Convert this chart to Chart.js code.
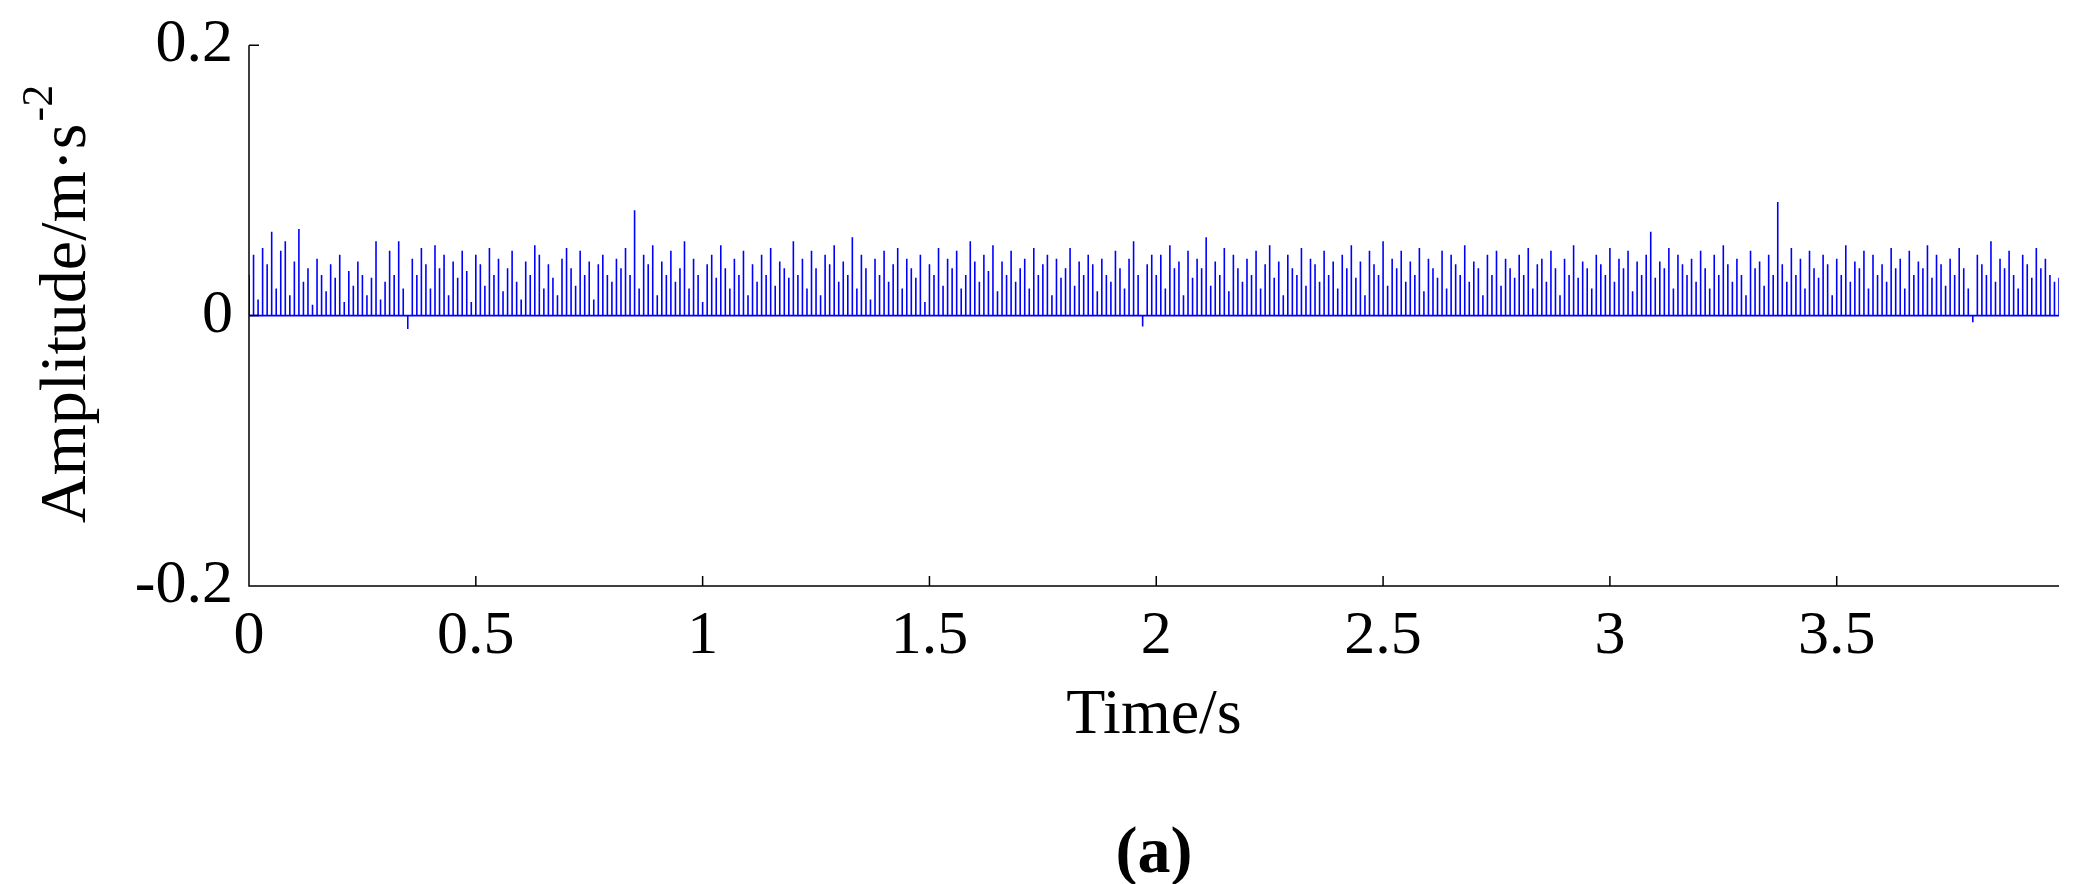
<!DOCTYPE html>
<html><head><meta charset="utf-8">
<script src="https://cdn.jsdelivr.net/npm/chart.js@4.4.0/dist/chart.umd.min.js"></script>
<style>html,body{margin:0;background:#fff}canvas{display:block}</style>
</head><body>
<div style="width:2079px;height:884px"><canvas id="c"></canvas></div>
<script>
// peak amplitudes (x0.001 m/s^2), one pulse every 0.01 s
const peaks = [
30,45,12,50,38,62,20,48,55,15,40,64,25,35,8,42,30,18,38,28,45,10,33,22,40,30,15,28,55,12,25,48,30,55,20,-10,42,30,50,38,
20,52,35,45,15,40,28,48,33,10,45,38,22,50,30,42,18,35,48,25,12,40,30,52,45,20,38,28,15,42,50,35,22,48,30,40,12,38,45,30,
25,42,35,50,30,78,20,45,38,52,15,40,30,48,25,35,55,20,42,30,10,38,45,28,52,35,20,42,30,48,15,38,25,45,30,50,22,40,35,28,
55,30,42,20,48,35,15,45,38,52,25,40,30,58,20,45,35,12,42,30,48,25,38,50,20,42,35,28,45,10,38,30,50,22,42,35,48,20,30,55,
40,25,45,33,52,18,40,30,48,25,35,42,20,50,30,38,45,15,42,28,35,50,22,40,30,45,38,18,42,30,25,48,35,20,42,55,30,-8,38,45,
30,45,20,52,35,40,15,48,28,42,35,58,22,40,30,50,18,45,35,25,42,30,48,20,38,52,28,40,15,45,35,30,50,22,42,38,25,48,30,40,
20,45,35,52,28,40,15,48,38,30,55,22,42,35,48,25,40,30,50,18,42,35,28,48,20,45,38,30,52,25,40,35,15,45,30,48,22,42,35,28,
45,30,50,20,38,42,25,48,35,15,42,30,52,28,40,35,20,45,38,30,50,25,42,35,48,18,40,30,45,62,28,40,35,50,20,45,38,30,42,25,
48,35,20,45,30,52,38,25,42,30,15,48,35,40,22,45,30,84,38,25,50,30,42,20,48,35,28,45,38,15,42,30,52,25,40,35,48,20,45,30,
38,25,50,35,42,20,48,30,40,35,52,28,45,38,22,42,30,50,35,20,-5,45,38,30,55,25,42,35,48,30,20,45,38,28,50,35,42,30,25,28
];
const timeStep = 0.01;
const xTicks = [0,0.5,1,1.5,2,2.5,3,3.5];
const yTicks = [-0.2,0,0.2];
const xTitle = 'Time/s';
const yTitle = 'Amplitude/m·s';
const ySup = '-2';
const caption = '(a)';

const pts = [];
peaks.forEach((v,i)=>{const t=i*timeStep;pts.push({x:t,y:0},{x:t,y:v/1000},{x:t,y:0});});

const FONT='"Liberation Serif", "Times New Roman", serif';
const deco = {
  id:'deco',
  afterDraw(ch){
    const ctx=ch.ctx, xs=ch.scales.x, ys=ch.scales.y, a=ch.chartArea;
    ctx.save();
    ctx.strokeStyle='#000';ctx.lineWidth=1.5;
    ctx.beginPath();
    ctx.moveTo(a.left,a.top);ctx.lineTo(a.left,a.bottom);ctx.lineTo(a.right,a.bottom);
    xTicks.forEach(t=>{const x=xs.getPixelForValue(t);ctx.moveTo(x,a.bottom);ctx.lineTo(x,a.bottom-10);});
    yTicks.forEach(t=>{const y=ys.getPixelForValue(t);ctx.moveTo(a.left,y);ctx.lineTo(a.left+10,y);});
    ctx.stroke();
    ctx.fillStyle='#000';
    ctx.font='64px '+FONT;ctx.textAlign='center';ctx.textBaseline='middle';
    ctx.fillText(xTitle,(a.left+a.right)/2,716);
    ctx.font='bold 66px '+FONT;ctx.textBaseline='alphabetic';
    ctx.fillText(caption,(a.left+a.right)/2,872);
    ctx.textBaseline='middle';
    ctx.translate(68,305);ctx.rotate(-Math.PI/2);
    ctx.font='66px '+FONT;
    const w1=ctx.measureText(yTitle).width;
    ctx.font='44px '+FONT;const w2=ctx.measureText(ySup).width;
    const start=-(w1+w2)/2;
    ctx.font='66px '+FONT;ctx.textAlign='left';
    ctx.fillText(yTitle,start,0);
    ctx.font='44px '+FONT;ctx.fillText(ySup,start+w1+2,-28);
    ctx.restore();
  }
};

new Chart(document.getElementById('c'),{
  type:'line',
  data:{datasets:[{data:pts,borderColor:'#0000ff',borderWidth:1.6,pointRadius:0,tension:0}]},
  options:{
    responsive:true,maintainAspectRatio:false,animation:false,
    layout:{padding:{top:33,right:20,left:0,bottom:0}},
    plugins:{legend:{display:false},tooltip:{enabled:false}},
    scales:{
      x:{type:'linear',min:0,max:3.99,
        afterBuildTicks(s){s.ticks=xTicks.map(v=>({value:v}));},
        afterFit(s){s.height=884-33-553;},
        grid:{display:false},border:{display:false},
        ticks:{color:'#000',font:{family:FONT,size:62},padding:6,maxRotation:0,autoSkip:false,callback:v=>String(v)}},
      y:{min:-0.2,max:0.2,
        afterBuildTicks(s){s.ticks=yTicks.map(v=>({value:v}));},
        afterFit(s){s.width=249;},
        grid:{display:false},border:{display:false},
        ticks:{color:'#000',font:{family:FONT,size:62},padding:8,callback:v=>String(v)}}
    }
  },
  plugins:[deco]
});
</script>
</body></html>
